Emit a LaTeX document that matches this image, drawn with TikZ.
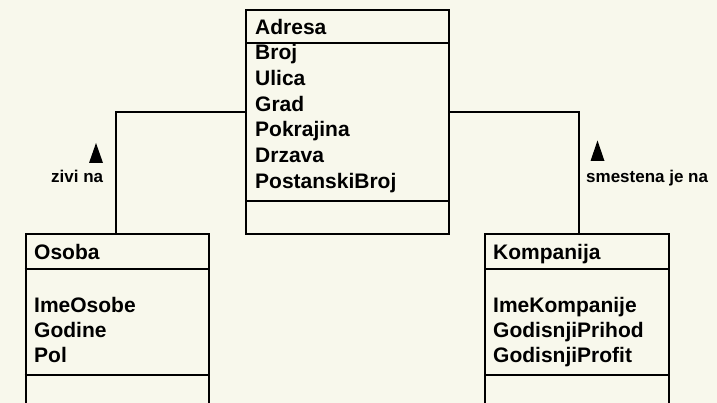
\documentclass[tikz,border=0pt]{standalone}
\usepackage{fontspec}
\setmainfont{Liberation Sans}
\usetikzlibrary{calc}
\definecolor{bgc}{RGB}{248,248,236}
\begin{document}
\begin{tikzpicture}[x=1pt,y=-1pt,
  classbox/.style={draw=black,line width=2pt,minimum width=#1,anchor=north west,inner sep=0pt},
  ctext/.style={anchor=base west,inner sep=0pt,font=\fontsize{21}{25}\selectfont\bfseries},
  ltext/.style={anchor=base west,inner sep=0pt,font=\fontsize{17}{20}\selectfont\bfseries},
  sep/.style={line width=2pt},
  conn/.style={line width=2pt}]
\useasboundingbox (0,0) rectangle (717,403);
\clip (0,0) rectangle (717,403);
\fill[bgc] (0,0) rectangle (717,403);
% class boxes
\node[classbox=203pt,minimum height=224pt] (adresa) at (245,9) {};
\node[classbox=183pt,minimum height=200pt] (osoba) at (24.5,233.5) {};
\node[classbox=184pt,minimum height=200pt] (kompanija) at (484,233.5) {};
% separators
\draw[sep] ($(adresa.north west)+(0,34)$) -- ($(adresa.north east)+(0,34)$);
\draw[sep] ($(adresa.north west)+(0,192)$) -- ($(adresa.north east)+(0,192)$);
\draw[sep] ($(osoba.north west)+(0,35.5)$) -- ($(osoba.north east)+(0,35.5)$);
\draw[sep] ($(osoba.north west)+(0,141.5)$) -- ($(osoba.north east)+(0,141.5)$);
\draw[sep] ($(kompanija.north west)+(0,35.5)$) -- ($(kompanija.north east)+(0,35.5)$);
\draw[sep] ($(kompanija.north west)+(0,141.5)$) -- ($(kompanija.north east)+(0,141.5)$);
% texts
\node[ctext] (tA) at (255,35) {Adresa};
\node[ctext] (tA1) at (255,60) {Broj};
\node[ctext] (tA2) at (255,86) {Ulica};
\node[ctext] (tA3) at (255,111.5) {Grad};
\node[ctext] (tA4) at (255,137) {Pokrajina};
\node[ctext] (tA5) at (255,163) {Drzava};
\node[ctext] (tA6) at (255,189) {PostanskiBroj};
\node[ctext] (tO) at (34,259) {Osoba};
\node[ctext] (tO1) at (34,312) {ImeOsobe};
\node[ctext] (tO2) at (34,337) {Godine};
\node[ctext] (tO3) at (34,362) {Pol};
\node[ctext] (tK) at (493,259) {Kompanija};
\node[ctext] (tK1) at (493,312) {ImeKompanije};
\node[ctext] (tK2) at (493,337) {GodisnjiPrihod};
\node[ctext] (tK3) at (493,362) {GodisnjiProfit};
% connectors
\coordinate (aw) at ($(adresa.north west)+(0,103)$);
\coordinate (ae) at ($(adresa.north east)+(0,103)$);
\coordinate (ot) at ($(osoba.north)+(-1.5,0)$);
\coordinate (kt) at ($(kompanija.north)+(1.7,0)$);
\draw[conn] (aw) -| (ot);
\draw[conn] (ae) -| (kt);
% labels with direction triangles
\node[ltext] (l1) at (51,183) {zivi na};
\node[ltext] (l2) at (586,183) {smestena je na};
\fill[black] (96,143) -- (103,163) -- (89,163) -- cycle;
\fill[black] (597.5,140.5) -- (604.5,161) -- (590.5,161) -- cycle;
\end{tikzpicture}
\end{document}
